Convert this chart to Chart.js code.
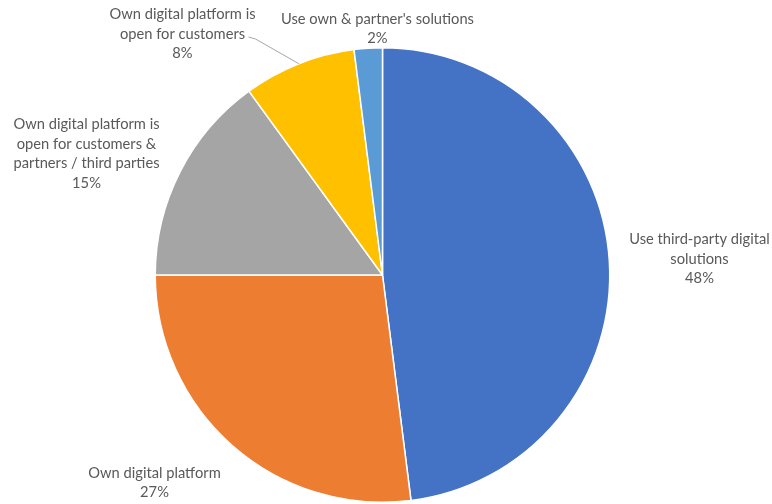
<!DOCTYPE html>
<html lang="en">
<head>
    <meta charset="UTF-8">
    <title>Digital Platform Usage</title>
    <script src="https://cdn.jsdelivr.net/npm/chart.js"></script>
    <style>
        html, body { margin: 0; padding: 0; background: #fff; }
        canvas { display: block; }
    </style>
</head>
<body>
    <canvas id="pieChart" width="772" height="504"></canvas>

    <script>
        // Slices, clockwise from 12 o'clock
        const categories = [
            'Use third-party digital solutions',
            'Own digital platform',
            'Own digital platform is open for customers & partners / third parties',
            'Own digital platform is open for customers',
            "Use own & partner's solutions"
        ];
        const shares = [48, 27, 15, 8, 2];
        const labelLines = [
            ['Use third-party digital', 'solutions'],
            ['Own digital platform'],
            ['Own digital platform is', 'open for customers &', 'partners / third parties'],
            ['Own digital platform is', 'open for customers'],
            ["Use own & partner's solutions"]
        ];
        const sliceColors = ['#4472C4', '#ED7D31', '#A5A5A5', '#FFC000', '#5B9BD5'];

        // Label block centres relative to the pie centre, plus optional leader line
        const labelLayout = [
            { dx: 317, dy: -16 },
            { dx: -228, dy: 208 },
            { dx: -296, dy: -121 },
            { dx: -200, dy: -241, leader: [[-127, -236], [-134, -238]] },
            { dx: -5, dy: -246 }
        ];

        const outsideLabels = {
            id: 'outsideLabels',
            afterDatasetsDraw(chart) {
                const ctx = chart.ctx;
                const meta = chart.getDatasetMeta(0);
                const lineH = 19.5;
                ctx.save();
                ctx.font = '14.7px Lato, "Open Sans", sans-serif';
                ctx.fillStyle = '#595959';
                ctx.textAlign = 'center';
                ctx.textBaseline = 'middle';
                meta.data.forEach((arc, i) => {
                    const cx = arc.x, cy = arc.y;
                    const lay = labelLayout[i];
                    const lines = labelLines[i].concat([shares[i] + '%']);
                    const top = cy + lay.dy - (lines.length - 1) * lineH / 2;
                    lines.forEach((t, k) => ctx.fillText(t, cx + lay.dx, top + k * lineH));

                    if (lay.leader) {
                        const mid = (arc.startAngle + arc.endAngle) / 2;
                        ctx.strokeStyle = '#A6A6A6';
                        ctx.lineWidth = 1;
                        ctx.beginPath();
                        ctx.moveTo(cx + Math.cos(mid) * arc.outerRadius, cy + Math.sin(mid) * arc.outerRadius);
                        lay.leader.forEach(p => ctx.lineTo(cx + p[0], cy + p[1]));
                        ctx.stroke();
                    }
                });
                ctx.restore();
            }
        };

        const pieChart = new Chart(document.getElementById('pieChart'), {
            type: 'pie',
            data: {
                labels: categories,
                datasets: [{
                    data: shares,
                    backgroundColor: sliceColors,
                    borderColor: '#ffffff',
                    borderWidth: 1.5
                }]
            },
            options: {
                responsive: false,
                animation: false,
                layout: { padding: { top: 47, bottom: 1, left: 0, right: 7 } },
                plugins: {
                    legend: { display: false },
                    tooltip: { enabled: false }
                }
            },
            plugins: [outsideLabels]
        });
    </script>
</body>
</html>
